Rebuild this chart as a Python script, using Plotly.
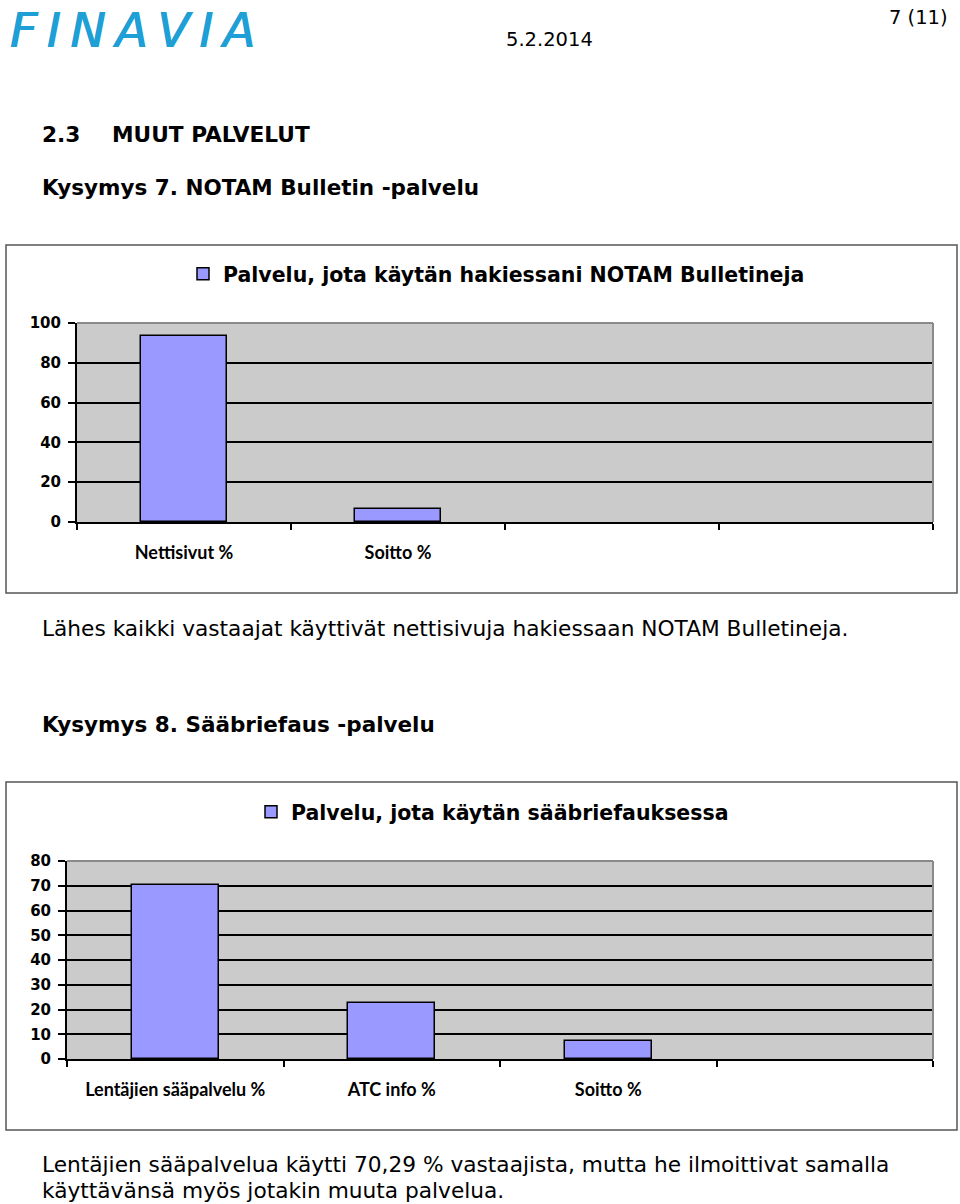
import plotly.graph_objects as go

W, H = 960, 1204

# ---- data ----
notam_categories = ["Nettisivut %", "Soitto %"]
notam_values = [93.5, 6.5]
notam_series = "Palvelu, jota käytän hakiessani NOTAM Bulletineja"
notam_yticks = [0, 20, 40, 60, 80, 100]

brief_categories = ["Lentäjien sääpalvelu %", "ATC info %", "Soitto %"]
brief_values = [70.29, 22.46, 7.25]
brief_series = "Palvelu, jota käytän sääbriefauksessa"
brief_yticks = [0, 10, 20, 30, 40, 50, 60, 70, 80]

n_slots = 4  # category slots on each x axis (last ones empty)


def px(x):
    return x / W


def py(y):
    return 1 - y / H


BAR_COLOR = "#9999FF"
PLOT_BG = "#CBCBCB"
BODY_FONT = "DejaVu Sans"
CAT_FONT = "Lato"
LOGO_BLUE = "#1E9FD6"

fig = go.Figure()

fig.add_trace(go.Bar(
    x=list(range(len(notam_categories))), y=notam_values, name=notam_series,
    xaxis="x", yaxis="y", legend="legend", width=0.4,
    marker=dict(color=BAR_COLOR, line=dict(color="black", width=1.5)),
    hoverinfo="skip",
))
fig.add_trace(go.Bar(
    x=list(range(len(brief_categories))), y=brief_values, name=brief_series,
    xaxis="x2", yaxis="y2", legend="legend2", width=0.4,
    marker=dict(color=BAR_COLOR, line=dict(color="black", width=1.5)),
    hoverinfo="skip",
))


def xaxis_cfg(domain, anchor, cats):
    return dict(
        domain=domain, anchor=anchor, range=[-0.5, n_slots - 0.5],
        tickmode="array", tickvals=list(range(len(cats))), ticktext=cats,
        ticks="", showgrid=False, zeroline=False,
        showline=True, linecolor="black", linewidth=2,
        tickfont=dict(family=CAT_FONT, size=18, color="black", weight="bold"),
        ticklabelstandoff=13, automargin=False,
        minor=dict(tickmode="linear", tick0=-0.5, dtick=1, ticks="outside",
                   ticklen=6, tickwidth=2, tickcolor="black", showgrid=False),
        fixedrange=True,
    )


def yaxis_cfg(domain, anchor, ticks):
    return dict(
        domain=domain, anchor=anchor, range=[ticks[0], ticks[-1]],
        tickmode="array", tickvals=ticks,
        ticks="outside", ticklen=7, tickwidth=2, tickcolor="black",
        showgrid=True, gridcolor="black", gridwidth=1.6,
        showline=True, linecolor="black", linewidth=2, zeroline=False,
        tickfont=dict(family=BODY_FONT, size=15, color="black", weight="bold"),
        ticklabelstandoff=4, automargin=False,
        fixedrange=True,
    )


shapes = []
# outer chart frames
for (y0, y1) in [(245, 593), (782, 1130)]:
    shapes.append(dict(type="rect", xref="paper", yref="paper",
                       x0=px(6), x1=px(957), y0=py(y1), y1=py(y0),
                       line=dict(color="#555555", width=1.5), fillcolor="rgba(0,0,0,0)",
                       layer="below"))
# gray top/right borders of plot areas
for xr, yr in [("x domain", "y domain"), ("x2 domain", "y2 domain")]:
    shapes.append(dict(type="line", xref=xr, yref=yr, x0=0, x1=1, y0=1, y1=1,
                       line=dict(color="#8a8a8a", width=2), layer="above"))
    shapes.append(dict(type="line", xref=xr, yref=yr, x0=1, x1=1, y0=0, y1=1,
                       line=dict(color="#8a8a8a", width=2), layer="above"))


def txt(x, y, s, size, family=BODY_FONT, color="black", weight="normal",
        style="normal", xanchor="left", yanchor="middle", shadow="none"):
    return dict(x=px(x), y=py(y), xref="paper", yref="paper", text=s,
                showarrow=False, xanchor=xanchor, yanchor=yanchor,
                font=dict(family=family, size=size, color=color,
                          weight=weight, style=style, shadow=shadow))


annotations = [
    txt(8, 0.5, "F\u2009I\u2009N\u2009A\u2009V\u2009I\u2009A", 47.5,
        color=LOGO_BLUE, style="italic", yanchor="top",
        shadow=f"0.8px 0 0 {LOGO_BLUE}, -0.4px 0 0 {LOGO_BLUE}"),
    txt(504, 40, "5.2.2014", 19.5),
    txt(950, 17, "7 (11)", 19.5, xanchor="right"),
    txt(40, 134, "2.3", 21.7, weight="bold"),
    txt(110, 134, "MUUT PALVELUT", 21.7, weight="bold"),
    txt(40, 187, "Kysymys 7. NOTAM Bulletin -palvelu", 21.5, weight="bold"),
    txt(40, 628, "Lähes kaikki vastaajat käyttivät nettisivuja hakiessaan NOTAM Bulletineja.", 21.7),
    txt(40, 724, "Kysymys 8. Sääbriefaus -palvelu", 21.5, weight="bold"),
    txt(40, 1164, "Lentäjien sääpalvelua käytti 70,29 % vastaajista, mutta he ilmoittivat samalla", 21.7),
    txt(40, 1190, "käyttävänsä myös jotakin muuta palvelua.", 21.7),
]

legend_font = dict(family=BODY_FONT, size=20.5, color="black", weight="bold")

fig.update_layout(
    width=W, height=H,
    margin=dict(l=0, r=0, t=0, b=0, pad=0, autoexpand=False),
    paper_bgcolor="white", plot_bgcolor=PLOT_BG,
    xaxis=xaxis_cfg([px(77), px(933)], "y", notam_categories),
    yaxis=yaxis_cfg([py(522), py(323)], "x", notam_yticks),
    xaxis2=xaxis_cfg([px(67), px(933)], "y2", brief_categories),
    yaxis2=yaxis_cfg([py(1059), py(861)], "x2", brief_yticks),
    legend=dict(x=px(183), y=py(274), xanchor="left", yanchor="middle",
                font=legend_font, bgcolor="rgba(0,0,0,0)", borderwidth=0),
    legend2=dict(x=px(251), y=py(812), xanchor="left", yanchor="middle",
                 font=legend_font, bgcolor="rgba(0,0,0,0)", borderwidth=0),
    showlegend=True,
    shapes=shapes,
    annotations=annotations,
    bargap=0,
)

fig.write_html("out.html")
